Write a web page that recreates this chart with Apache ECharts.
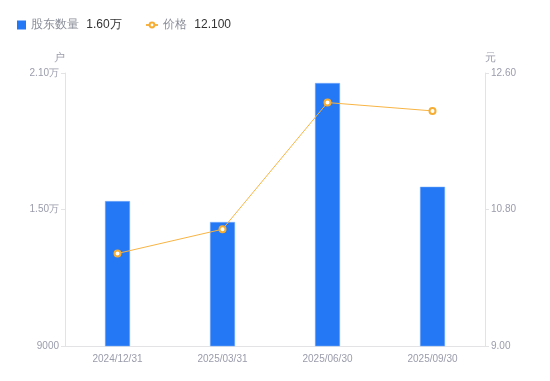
<!DOCTYPE html>
<html>
<head>
<meta charset="utf-8">
<script src="https://cdn.jsdelivr.net/npm/echarts@6/dist/echarts.min.js"></script>
<style>
  html, body { margin: 0; padding: 0; background: #fff; }
  #main { width: 550px; height: 381px; }
</style>
</head>
<body>
<div id="main"></div>
<script>
var dates = ['2024/12/31', '2025/03/31', '2025/06/30', '2025/09/30'];
var holders = [15370, 14450, 20560, 16000];
var prices = [10.22, 10.54, 12.21, 12.10];
var leftTicks = [9000, 15000, 21000];
var rightTicks = [9.00, 10.80, 12.60];

var myChart = echarts.init(document.getElementById('main'));

function wan(v) {
    return v >= 10000 ? (v / 10000).toFixed(2) + '万' : String(v);
}

var legendText = {
    fontSize: 12,
    color: '#8a8d99',
    rich: {
        v: { color: '#333', fontSize: 12, padding: [0, 0, 0, 4] }
    }
};

var option = {
    animation: false,
    legend: [
        {
            left: 12,
            top: 14,
            itemWidth: 9,
            itemHeight: 9,
            textStyle: legendText,
            data: [{ name: '股东数量', icon: 'rect', itemStyle: { borderWidth: 0 } }],
            formatter: function (name) {
                return name + ' {v|' + wan(holders[holders.length - 1]) + '}';
            }
        },
        {
            left: 140,
            top: 14,
            itemWidth: 12,
            itemHeight: 6,
            textStyle: legendText,
            data: ['价格'],
            formatter: function (name) {
                return name + ' {v|' + prices[prices.length - 1].toFixed(3) + '}';
            }
        }
    ],
    grid: {
        left: 65,
        right: 65,
        top: 73,
        bottom: 35
    },
    xAxis: {
        type: 'category',
        data: dates,
        axisLine: { lineStyle: { color: '#e3e3e6' } },
        axisTick: { show: false },
        axisLabel: { color: '#9a9cab', fontSize: 10, margin: 8 }
    },
    yAxis: [
        {
            type: 'value',
            name: '户',
            nameGap: 10,
            nameTextStyle: { color: '#9a9cab', fontSize: 11, padding: [0, 12, 0, 0] },
            min: leftTicks[0],
            max: leftTicks[leftTicks.length - 1],
            interval: leftTicks[1] - leftTicks[0],
            axisLine: { show: true, lineStyle: { color: '#e3e3e6' } },
            axisTick: { show: true, length: 4, lineStyle: { color: '#e3e3e6' } },
            splitLine: { show: false },
            axisLabel: { color: '#9a9cab', fontSize: 10, margin: 6, formatter: wan }
        },
        {
            type: 'value',
            name: '元',
            nameGap: 10,
            nameTextStyle: { color: '#9a9cab', fontSize: 11, padding: [0, 0, 0, 10] },
            min: rightTicks[0],
            max: rightTicks[rightTicks.length - 1],
            interval: rightTicks[1] - rightTicks[0],
            axisLine: { show: true, lineStyle: { color: '#e3e3e6' } },
            axisTick: { show: true, length: 4, lineStyle: { color: '#e3e3e6' } },
            splitLine: { show: false },
            axisLabel: {
                color: '#9a9cab', fontSize: 10, margin: 6,
                formatter: function (v) { return v.toFixed(2); }
            }
        }
    ],
    series: [
        {
            name: '股东数量',
            type: 'bar',
            yAxisIndex: 0,
            barWidth: 25,
            itemStyle: { color: '#2477f5', borderColor: '#7fb0fa', borderWidth: 0.5 },
            data: holders
        },
        {
            name: '价格',
            type: 'line',
            yAxisIndex: 1,
            symbol: 'circle',
            symbolSize: 6,
            itemStyle: { color: '#fff', borderColor: '#f6ad33', borderWidth: 2 },
            lineStyle: { color: '#f8b444', width: 1 },
            data: prices
        }
    ]
};
myChart.setOption(option);
</script>
</body>
</html>
